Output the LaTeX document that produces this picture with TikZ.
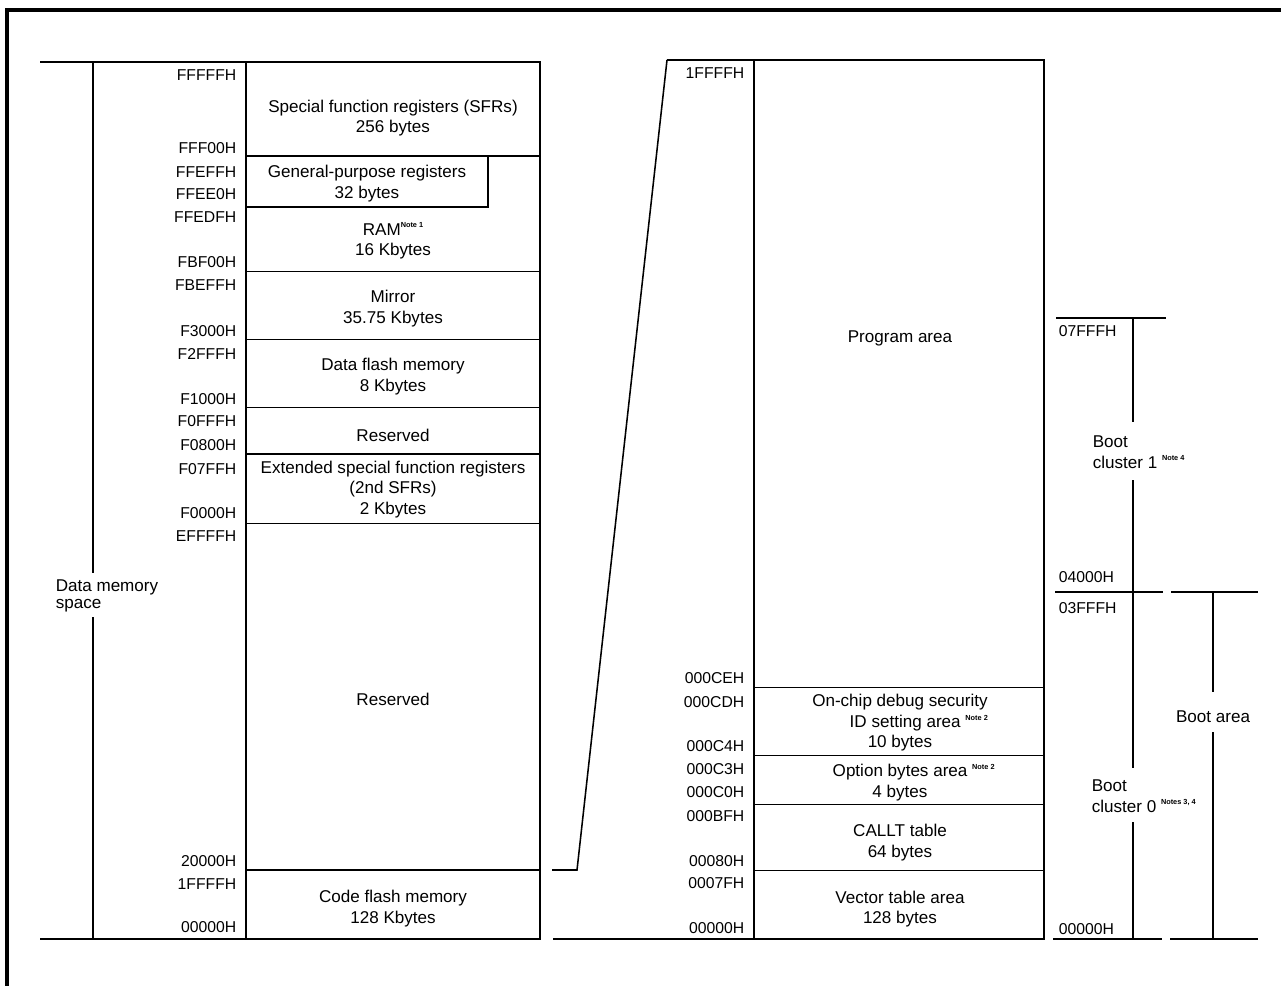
\documentclass[tikz,border=0pt]{standalone}
\usepackage{fontspec}
\setmainfont{Liberation Sans}
\newcommand{\notetxt}[1]{\raisebox{0.8ex}{\fontsize{5.5}{5.5}\selectfont\bfseries #1}}
\begin{document}
\begin{tikzpicture}[x=0.75pt,y=-0.75pt,line width=1.15pt,
  lbl/.style={font=\fontsize{12.8}{15.4}\selectfont,align=center,inner sep=0pt},
  addr/.style={font=\fontsize{11.8}{13}\selectfont,anchor=east,inner sep=0pt},
  addrw/.style={font=\fontsize{11.8}{13}\selectfont,anchor=west,inner sep=0pt},
  side/.style={font=\fontsize{12.8}{15.4}\selectfont,align=left,anchor=west,inner sep=0pt},
  frame/.style={line width=2.3pt}]
\useasboundingbox (0,0) rectangle (1281,985);
% outer frame
\draw[frame] (7,990) -- (7,10) -- (1290,10);

% ---------------- left panel: data memory space
\draw (40,62) -- (540,62);
\draw (40,939) -- (540,939);
\draw (246,62) rectangle (540,939);
\foreach \yy in {156,271.7,339.3,407.7,454,523.3,870}
  \draw (246,\yy) -- (540,\yy);
\draw (246,156) rectangle (488,207);
\draw (93,62) -- (93,573);
\draw (93,617) -- (93,939);
\node[side] (dms) at (55,596) {Data memory\\[-3pt]space};

\node[addr] (a1) at (237,75) {FFFFFH};
\node[addr] (a2) at (237,148) {FFF00H};
\node[addr] (a3) at (237,172) {FFEFFH};
\node[addr] (a4) at (237,194) {FFEE0H};
\node[addr] (a5) at (237,217) {FFEDFH};
\node[addr] (a6) at (237,262) {FBF00H};
\node[addr] (a7) at (237,285) {FBEFFH};
\node[addr] (a8) at (237,331) {F3000H};
\node[addr] (a9) at (237,354) {F2FFFH};
\node[addr] (a10) at (237,399) {F1000H};
\node[addr] (a11) at (237,421) {F0FFFH};
\node[addr] (a12) at (237,445) {F0800H};
\node[addr] (a13) at (237,469) {F07FFH};
\node[addr] (a14) at (237,513) {F0000H};
\node[addr] (a15) at (237,536) {EFFFFH};
\node[addr] (a16) at (237,861) {20000H};
\node[addr] (a17) at (237,884) {1FFFFH};
\node[addr] (a18) at (237,927) {00000H};

\node[lbl] (sfr) at (393,118) {Special function registers (SFRs)\\256 bytes};
\node[lbl] (gpr) at (367,183.5) {General-purpose registers\\32 bytes};
\node[lbl] (ram) at (393,241) {RAM\notetxt{Note 1}\\16 Kbytes};
\node[lbl] (mir) at (393,308.5) {Mirror\\35.75 Kbytes};
\node[lbl] (dfl) at (393,376.5) {Data flash memory\\8 Kbytes};
\node[lbl] (rs1) at (393,435) {Reserved};
\node[lbl] (esfr) at (393,489.5) {Extended special function registers\\(2nd SFRs)\\2 Kbytes};
\node[lbl] (rs2) at (393,699) {Reserved};
\node[lbl] (cfl) at (393,908.5) {Code flash memory\\128 Kbytes};

% ---------------- connector
\coordinate (c1) at (552,870);
\coordinate (c2) at (577,870);
\coordinate (c3) at (667,60);
\draw (c1) -- (c2) -- (c3);

% ---------------- right panel: code flash
\draw (c3) -- (1044,60);
\draw (553,939) -- (1044,939);
\draw (754,60) rectangle (1044,939);
\foreach \yy in {687.3,755.3,804.3,870.7}
  \draw (754,\yy) -- (1044,\yy);

\node[addr] (b1) at (745,73) {1FFFFH};
\node[addr] (b2) at (745,678) {000CEH};
\node[addr] (b3) at (745,702) {000CDH};
\node[addr] (b4) at (745,746) {000C4H};
\node[addr] (b5) at (745,769) {000C3H};
\node[addr] (b6) at (745,792) {000C0H};
\node[addr] (b7) at (745,816) {000BFH};
\node[addr] (b8) at (745,861) {00080H};
\node[addr] (b9) at (745,883) {0007FH};
\node[addr] (b10) at (745,928) {00000H};

\node[lbl] (prg) at (900,338) {Program area};
\node[lbl] (ocd) at (900,723) {On-chip debug security\\\hspace*{2.2em}ID setting area \notetxt{Note 2}\\10 bytes};
\node[lbl] (opt) at (900,782.5) {\hspace*{1.6em}Option bytes area \notetxt{Note 2}\\4 bytes};
\node[lbl] (callt) at (900,842.5) {CALLT table\\64 bytes};
\node[lbl] (vec) at (900,909) {Vector table area\\128 bytes};

% ---------------- boot clusters
\draw (1056,318) -- (1166,318);
\draw (1133,318) -- (1133,422);
\draw (1133,480) -- (1133,592);
\draw (1055,592) -- (1163,592);
\draw (1171,592) -- (1258,592);
\draw (1133,592) -- (1133,768);
\draw (1133,822) -- (1133,939);
\draw (1053,939) -- (1162,939);
\draw (1170,939) -- (1258,939);
\draw (1213,592) -- (1213,692);
\draw (1213,732) -- (1213,939);

\node[addrw] (k1) at (1058,331) {07FFFH};
\node[addrw] (k2) at (1058,577) {04000H};
\node[addrw] (k3) at (1058,608) {03FFFH};
\node[addrw] (k4) at (1058,929) {00000H};
\node[side] (bc1) at (1092,452) {Boot\\cluster 1 \notetxt{Note 4}};
\node[side] (bc0) at (1091,796) {Boot\\cluster 0 \notetxt{Notes 3, 4}};
\node[lbl] (ba) at (1213,717) {Boot area};
\end{tikzpicture}
\end{document}
